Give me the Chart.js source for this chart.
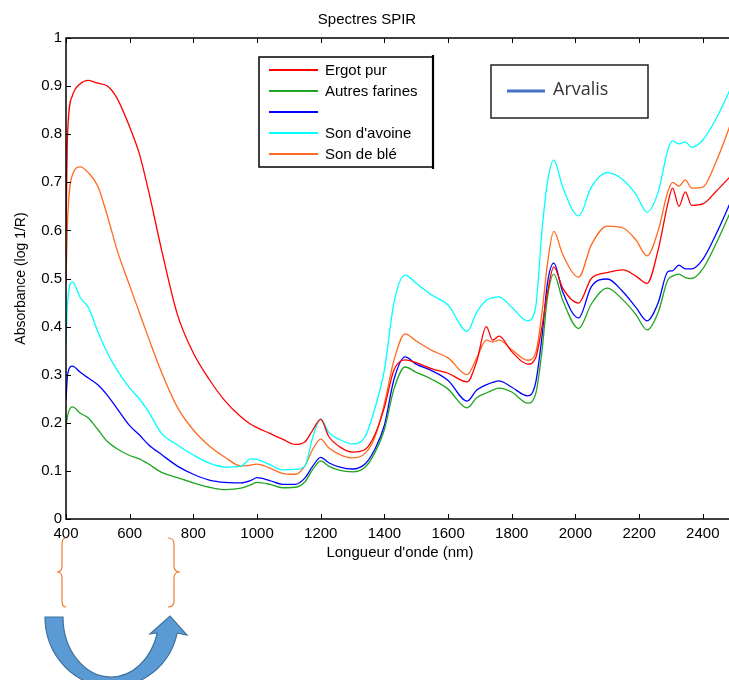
<!DOCTYPE html>
<html lang="fr">
<head>
<meta charset="utf-8">
<title>Spectres SPIR</title>
<script src="https://cdn.jsdelivr.net/npm/chart.js@4.4.1/dist/chart.umd.min.js"></script>
<style>
  html, body { margin: 0; padding: 0; background: #fff; overflow: hidden; }
  #wrap { width: 740px; height: 680px; }
</style>
</head>
<body>
<div id="wrap"><canvas id="spirChart" width="740" height="680"></canvas></div>
<script>
// Longueurs d'onde (nm) communes à tous les spectres
const wavelengths = [
  400, 405, 420, 445, 470, 500, 530, 560, 600, 630,
  660, 700, 750, 800, 850, 900, 950, 980, 1000, 1040,
  1080, 1120, 1150, 1175, 1200, 1225, 1260, 1300, 1340, 1370,
  1400, 1430, 1465, 1500, 1550, 1600, 1660, 1690, 1720, 1740,
  1760, 1800, 1850, 1875, 1895, 1912, 1932, 1960, 2010, 2050,
  2100, 2150, 2190, 2225, 2260, 2290, 2305, 2325, 2345, 2365,
  2400, 2440, 2498
];

// Absorbance (log 1/R) par échantillon
const ergotPur = [
  0.60, 0.80, 0.88, 0.905, 0.912, 0.906, 0.90, 0.875, 0.815, 0.76,
  0.68, 0.56, 0.425, 0.345, 0.29, 0.245, 0.212, 0.197, 0.19, 0.178,
  0.166, 0.155, 0.16, 0.185, 0.207, 0.172, 0.15, 0.139, 0.145, 0.175,
  0.232, 0.31, 0.331, 0.325, 0.312, 0.303, 0.285, 0.328, 0.40, 0.372,
  0.38, 0.348, 0.322, 0.335, 0.40, 0.47, 0.524, 0.48, 0.449, 0.50,
  0.512, 0.518, 0.505, 0.49, 0.56, 0.655, 0.688, 0.65, 0.68, 0.652,
  0.655, 0.68, 0.72
];
const autresFarines = [
  0.19, 0.215, 0.233, 0.22, 0.21, 0.186, 0.161, 0.146, 0.132, 0.125,
  0.114, 0.097, 0.086, 0.075, 0.066, 0.061, 0.064, 0.071, 0.076, 0.072,
  0.065, 0.066, 0.077, 0.103, 0.121, 0.11, 0.101, 0.098, 0.108, 0.138,
  0.186, 0.27, 0.316, 0.305, 0.29, 0.27, 0.231, 0.252, 0.262, 0.268,
  0.272, 0.264, 0.241, 0.26, 0.35, 0.46, 0.509, 0.455, 0.396, 0.447,
  0.48, 0.455, 0.425, 0.393, 0.43, 0.497, 0.505, 0.509, 0.502, 0.50,
  0.52, 0.57, 0.655
];
const echantillonBleu = [
  0.247, 0.30, 0.318, 0.305, 0.293, 0.279, 0.257, 0.23, 0.194, 0.175,
  0.154, 0.134, 0.11, 0.093, 0.081, 0.076, 0.075, 0.08, 0.086, 0.08,
  0.072, 0.072, 0.085, 0.11, 0.128, 0.117, 0.108, 0.104, 0.115, 0.145,
  0.195, 0.29, 0.337, 0.322, 0.308, 0.288, 0.245, 0.268, 0.279, 0.284,
  0.287, 0.274, 0.256, 0.283, 0.38, 0.49, 0.532, 0.472, 0.418, 0.483,
  0.499, 0.472, 0.44, 0.412, 0.45, 0.514, 0.516, 0.528, 0.52, 0.52,
  0.54, 0.59, 0.675
];
const sonAvoine = [
  0.366, 0.45, 0.493, 0.46, 0.44, 0.39, 0.345, 0.31, 0.272, 0.25,
  0.222, 0.178, 0.154, 0.133, 0.116, 0.108, 0.11, 0.125, 0.124, 0.113,
  0.102, 0.103, 0.11, 0.17, 0.208, 0.18, 0.165, 0.156, 0.172, 0.23,
  0.31, 0.45, 0.507, 0.49, 0.465, 0.445, 0.39, 0.43, 0.455, 0.46,
  0.462, 0.44, 0.412, 0.44, 0.60, 0.70, 0.746, 0.69, 0.63, 0.69,
  0.72, 0.705, 0.675, 0.638, 0.68, 0.767, 0.786, 0.78, 0.784, 0.773,
  0.788, 0.83, 0.91
];
const sonBle = [
  0.49, 0.62, 0.715, 0.732, 0.72, 0.692, 0.63, 0.56, 0.485, 0.43,
  0.375, 0.305, 0.232, 0.185, 0.152, 0.128, 0.11, 0.112, 0.114, 0.106,
  0.095, 0.093, 0.11, 0.145, 0.166, 0.148, 0.134, 0.127, 0.137, 0.17,
  0.24, 0.33, 0.385, 0.37, 0.35, 0.335, 0.30, 0.335, 0.372, 0.368,
  0.372, 0.352, 0.33, 0.345, 0.43, 0.53, 0.598, 0.55, 0.503, 0.57,
  0.609, 0.605, 0.58, 0.547, 0.60, 0.68, 0.70, 0.692, 0.705, 0.688,
  0.69, 0.74, 0.84
];

const seriesLabels = ['Ergot pur', 'Autres farines', '', "Son d'avoine", 'Son de blé'];
const seriesValues = [ergotPur, autresFarines, echantillonBleu, sonAvoine, sonBle];
const seriesColors = ['#ff0000', '#1fa51f', '#0000ff', '#00ffff', '#ff6a1f'];

const chartTitle = 'Spectres SPIR';
const xTitle = "Longueur d'onde (nm)";
const yTitle = 'Absorbance (log 1/R)';

// Référence ajoutée à côté de la légende
const refLabel = 'Arvalis';
const refColor = '#4472c4';

const baseFont = 'Liberation Sans, Arial, sans-serif';

// Cadre fermé avec graduations tournées vers l'intérieur (style MATLAB)
const framePlugin = {
  id: 'matlabFrame',
  afterDatasetsDraw(chart) {
    const { ctx, chartArea: a, scales: { x, y } } = chart;
    const len = 5;
    ctx.save();
    ctx.strokeStyle = '#000';
    ctx.lineWidth = 1.5;
    ctx.strokeRect(a.left, a.top, a.right - a.left, a.bottom - a.top);
    ctx.lineWidth = 1;
    ctx.beginPath();
    x.ticks.forEach(t => {
      const px = Math.round(x.getPixelForValue(t.value)) + 0.5;
      ctx.moveTo(px, a.bottom); ctx.lineTo(px, a.bottom - len);
      ctx.moveTo(px, a.top); ctx.lineTo(px, a.top + len);
    });
    y.ticks.forEach(t => {
      const py = Math.round(y.getPixelForValue(t.value)) + 0.5;
      ctx.moveTo(a.left, py); ctx.lineTo(a.left + len, py);
      ctx.moveTo(a.right, py); ctx.lineTo(a.right - len, py);
    });
    ctx.stroke();
    ctx.restore();
  }
};

// Légendes encadrées
const legendPlugin = {
  id: 'boxedLegend',
  afterDraw(chart) {
    const { ctx } = chart;
    ctx.save();

    // légende des spectres
    ctx.fillStyle = '#fff';
    ctx.fillRect(259, 57, 174, 110);
    ctx.strokeStyle = '#000';
    ctx.lineWidth = 1.5;
    ctx.strokeRect(259, 57, 174, 110);
    ctx.lineWidth = 2.2;
    ctx.beginPath();
    ctx.moveTo(433, 55); ctx.lineTo(433, 169);
    ctx.stroke();

    ctx.font = '15px ' + baseFont;
    ctx.textBaseline = 'middle';
    ctx.textAlign = 'left';
    chart.data.datasets.forEach((ds, i) => {
      const yRow = 70 + i * 21;
      ctx.strokeStyle = ds.borderColor;
      ctx.lineWidth = 1.8;
      ctx.beginPath();
      ctx.moveTo(269, yRow); ctx.lineTo(318, yRow);
      ctx.stroke();
      ctx.fillStyle = '#000';
      ctx.fillText(ds.label, 325, yRow + 1);
    });

    // encadré Arvalis
    ctx.fillStyle = '#fff';
    ctx.fillRect(491, 65, 157, 53);
    ctx.strokeStyle = '#222';
    ctx.lineWidth = 1.5;
    ctx.strokeRect(491, 65, 157, 53);
    ctx.strokeStyle = refColor;
    ctx.lineWidth = 3;
    ctx.beginPath();
    ctx.moveTo(507, 91); ctx.lineTo(545, 91);
    ctx.stroke();
    ctx.fillStyle = '#333';
    ctx.font = '18px "Open Sans", sans-serif';
    ctx.fillText(refLabel, 553, 90);

    ctx.restore();
  }
};

// Accolades et flèche courbe sous l'axe des abscisses
const sketchPlugin = {
  id: 'sketchMarks',
  afterDraw(chart) {
    const { ctx } = chart;
    ctx.save();
    ctx.strokeStyle = '#ed7d31';
    ctx.lineWidth = 1.2;

    ctx.beginPath();
    ctx.moveTo(66, 538);
    ctx.quadraticCurveTo(62, 538, 62, 544);
    ctx.lineTo(62, 566);
    ctx.quadraticCurveTo(62, 572, 57, 572);
    ctx.quadraticCurveTo(62, 572, 62, 578);
    ctx.lineTo(62, 601);
    ctx.quadraticCurveTo(62, 607, 66, 607);
    ctx.stroke();

    ctx.beginPath();
    ctx.moveTo(168, 538);
    ctx.quadraticCurveTo(174, 538, 174, 544);
    ctx.lineTo(174, 566);
    ctx.quadraticCurveTo(174, 572, 180, 572);
    ctx.quadraticCurveTo(174, 572, 174, 578);
    ctx.lineTo(174, 601);
    ctx.quadraticCurveTo(174, 607, 168, 607);
    ctx.stroke();

    ctx.beginPath();
    ctx.moveTo(45, 617);
    ctx.lineTo(63, 617);
    ctx.ellipse(111, 617, 48, 60, 0, Math.PI, 0.27, true);
    ctx.lineTo(150, 634);
    ctx.lineTo(170, 616);
    ctx.lineTo(187, 635);
    ctx.lineTo(177, 633);
    ctx.ellipse(112, 617, 67, 70, 0, 0.231, Math.PI, false);
    ctx.closePath();
    ctx.fillStyle = '#5b9bd5';
    ctx.fill();
    ctx.strokeStyle = '#41719c';
    ctx.lineWidth = 1.2;
    ctx.stroke();

    ctx.restore();
  }
};

new Chart(document.getElementById('spirChart'), {
  type: 'line',
  data: {
    datasets: seriesLabels.map((label, i) => ({
      label: label,
      data: wavelengths.map((w, j) => ({ x: w, y: seriesValues[i][j] })),
      borderColor: seriesColors[i],
      backgroundColor: seriesColors[i],
      borderWidth: 1.3,
      pointRadius: 0,
      fill: false,
      cubicInterpolationMode: 'monotone'
    }))
  },
  options: {
    responsive: false,
    animation: false,
    events: [],
    layout: { padding: { left: 0, right: 6, top: 0, bottom: 0 } },
    plugins: {
      legend: { display: false },
      tooltip: { enabled: false },
      title: {
        display: true,
        text: chartTitle,
        color: '#000',
        font: { family: baseFont, size: 15, weight: 'normal' },
        padding: { top: 11, bottom: 9 }
      }
    },
    scales: {
      x: {
        type: 'linear',
        min: 400,
        max: 2498,
        afterFit: s => { s.height = 161; },
        grid: { display: false, drawTicks: false },
        border: { display: false },
        ticks: {
          stepSize: 200,
          includeBounds: false,
          autoSkip: false,
          maxRotation: 0,
          padding: 6,
          color: '#000',
          font: { family: baseFont, size: 15 },
          callback: v => String(v)
        },
        title: {
          display: true,
          text: xTitle,
          color: '#000',
          font: { family: baseFont, size: 15 },
          padding: { top: 0, bottom: 118 }
        }
      },
      y: {
        min: 0,
        max: 1,
        afterFit: s => { s.width = 66; },
        grid: { display: false, drawTicks: false },
        border: { display: false },
        ticks: {
          stepSize: 0.1,
          padding: 4,
          color: '#000',
          font: { family: baseFont, size: 15 },
          callback: v => String(+v.toFixed(1))
        },
        title: {
          display: true,
          text: yTitle,
          color: '#000',
          font: { family: baseFont, size: 14 },
          padding: { top: 12.6, bottom: 0 }
        }
      }
    }
  },
  plugins: [framePlugin, legendPlugin, sketchPlugin]
});
</script>
</body>
</html>
